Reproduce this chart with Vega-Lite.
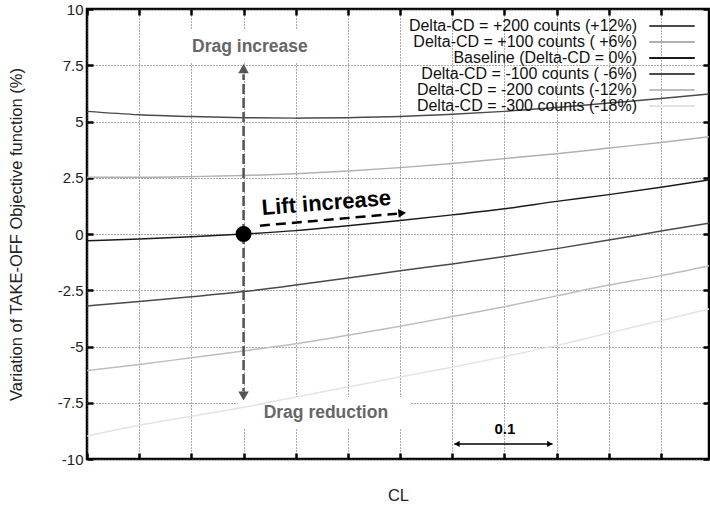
{
  "$schema": "https://vega.github.io/schema/vega-lite/v6.json",
  "width": 622,
  "height": 450,
  "autosize": "none",
  "padding": {"left": 87, "top": 9, "right": 1, "bottom": 51},
  "background": "white",
  "config": {
    "font": "Liberation Sans",
    "view": {"stroke": "black", "strokeWidth": 2.5},
    "axis": {"domain": false, "tickColor": "black", "tickWidth": 2.5, "tickSize": -6, "gridColor": "#555", "gridDash": [1, 2], "gridWidth": 1, "labelFont": "Liberation Sans", "titleFont": "Liberation Sans", "titleFontWeight": "normal", "labelColor": "#222", "titleColor": "#222"}
  },
  "datasets": {
    "curves": [
      {"series": "Delta-CD = +200 counts (+12%)", "CL": 0, "v": 5.45},
      {"series": "Delta-CD = +200 counts (+12%)", "CL": 0.05, "v": 5.3},
      {"series": "Delta-CD = +200 counts (+12%)", "CL": 0.1, "v": 5.22},
      {"series": "Delta-CD = +200 counts (+12%)", "CL": 0.15, "v": 5.17},
      {"series": "Delta-CD = +200 counts (+12%)", "CL": 0.2, "v": 5.15},
      {"series": "Delta-CD = +200 counts (+12%)", "CL": 0.25, "v": 5.17},
      {"series": "Delta-CD = +200 counts (+12%)", "CL": 0.3, "v": 5.22},
      {"series": "Delta-CD = +200 counts (+12%)", "CL": 0.35, "v": 5.32},
      {"series": "Delta-CD = +200 counts (+12%)", "CL": 0.4, "v": 5.45},
      {"series": "Delta-CD = +200 counts (+12%)", "CL": 0.45, "v": 5.62},
      {"series": "Delta-CD = +200 counts (+12%)", "CL": 0.5, "v": 5.82},
      {"series": "Delta-CD = +200 counts (+12%)", "CL": 0.55, "v": 6.02},
      {"series": "Delta-CD = +200 counts (+12%)", "CL": 0.596, "v": 6.22},
      {"series": "Delta-CD = +100 counts ( +6%)", "CL": 0, "v": 2.52},
      {"series": "Delta-CD = +100 counts ( +6%)", "CL": 0.05, "v": 2.52},
      {"series": "Delta-CD = +100 counts ( +6%)", "CL": 0.1, "v": 2.55},
      {"series": "Delta-CD = +100 counts ( +6%)", "CL": 0.15, "v": 2.6},
      {"series": "Delta-CD = +100 counts ( +6%)", "CL": 0.2, "v": 2.68},
      {"series": "Delta-CD = +100 counts ( +6%)", "CL": 0.25, "v": 2.8},
      {"series": "Delta-CD = +100 counts ( +6%)", "CL": 0.3, "v": 2.95},
      {"series": "Delta-CD = +100 counts ( +6%)", "CL": 0.35, "v": 3.13},
      {"series": "Delta-CD = +100 counts ( +6%)", "CL": 0.4, "v": 3.35},
      {"series": "Delta-CD = +100 counts ( +6%)", "CL": 0.45, "v": 3.57},
      {"series": "Delta-CD = +100 counts ( +6%)", "CL": 0.5, "v": 3.82},
      {"series": "Delta-CD = +100 counts ( +6%)", "CL": 0.55, "v": 4.07},
      {"series": "Delta-CD = +100 counts ( +6%)", "CL": 0.596, "v": 4.32},
      {"series": "Baseline (Delta-CD = 0%)", "CL": 0, "v": -0.3},
      {"series": "Baseline (Delta-CD = 0%)", "CL": 0.05, "v": -0.22},
      {"series": "Baseline (Delta-CD = 0%)", "CL": 0.1, "v": -0.12},
      {"series": "Baseline (Delta-CD = 0%)", "CL": 0.15, "v": 0},
      {"series": "Baseline (Delta-CD = 0%)", "CL": 0.2, "v": 0.15},
      {"series": "Baseline (Delta-CD = 0%)", "CL": 0.25, "v": 0.37},
      {"series": "Baseline (Delta-CD = 0%)", "CL": 0.3, "v": 0.6},
      {"series": "Baseline (Delta-CD = 0%)", "CL": 0.35, "v": 0.85},
      {"series": "Baseline (Delta-CD = 0%)", "CL": 0.4, "v": 1.12},
      {"series": "Baseline (Delta-CD = 0%)", "CL": 0.45, "v": 1.45},
      {"series": "Baseline (Delta-CD = 0%)", "CL": 0.5, "v": 1.75},
      {"series": "Baseline (Delta-CD = 0%)", "CL": 0.55, "v": 2.08},
      {"series": "Baseline (Delta-CD = 0%)", "CL": 0.596, "v": 2.4},
      {"series": "Delta-CD = -100 counts ( -6%)", "CL": 0, "v": -3.2},
      {"series": "Delta-CD = -100 counts ( -6%)", "CL": 0.05, "v": -3.0},
      {"series": "Delta-CD = -100 counts ( -6%)", "CL": 0.1, "v": -2.79},
      {"series": "Delta-CD = -100 counts ( -6%)", "CL": 0.15, "v": -2.56},
      {"series": "Delta-CD = -100 counts ( -6%)", "CL": 0.2, "v": -2.27},
      {"series": "Delta-CD = -100 counts ( -6%)", "CL": 0.25, "v": -1.96},
      {"series": "Delta-CD = -100 counts ( -6%)", "CL": 0.3, "v": -1.63},
      {"series": "Delta-CD = -100 counts ( -6%)", "CL": 0.35, "v": -1.33},
      {"series": "Delta-CD = -100 counts ( -6%)", "CL": 0.4, "v": -1.0},
      {"series": "Delta-CD = -100 counts ( -6%)", "CL": 0.45, "v": -0.65},
      {"series": "Delta-CD = -100 counts ( -6%)", "CL": 0.5, "v": -0.27},
      {"series": "Delta-CD = -100 counts ( -6%)", "CL": 0.55, "v": 0.13},
      {"series": "Delta-CD = -100 counts ( -6%)", "CL": 0.596, "v": 0.48},
      {"series": "Delta-CD = -200 counts (-12%)", "CL": 0, "v": -6.07},
      {"series": "Delta-CD = -200 counts (-12%)", "CL": 0.05, "v": -5.8},
      {"series": "Delta-CD = -200 counts (-12%)", "CL": 0.1, "v": -5.5},
      {"series": "Delta-CD = -200 counts (-12%)", "CL": 0.15, "v": -5.2},
      {"series": "Delta-CD = -200 counts (-12%)", "CL": 0.2, "v": -4.88},
      {"series": "Delta-CD = -200 counts (-12%)", "CL": 0.25, "v": -4.5},
      {"series": "Delta-CD = -200 counts (-12%)", "CL": 0.3, "v": -4.1},
      {"series": "Delta-CD = -200 counts (-12%)", "CL": 0.35, "v": -3.67},
      {"series": "Delta-CD = -200 counts (-12%)", "CL": 0.4, "v": -3.23},
      {"series": "Delta-CD = -200 counts (-12%)", "CL": 0.45, "v": -2.75},
      {"series": "Delta-CD = -200 counts (-12%)", "CL": 0.5, "v": -2.27},
      {"series": "Delta-CD = -200 counts (-12%)", "CL": 0.55, "v": -1.85},
      {"series": "Delta-CD = -200 counts (-12%)", "CL": 0.596, "v": -1.42},
      {"series": "Delta-CD = -300 counts (-18%)", "CL": 0, "v": -8.98},
      {"series": "Delta-CD = -300 counts (-18%)", "CL": 0.05, "v": -8.5},
      {"series": "Delta-CD = -300 counts (-18%)", "CL": 0.1, "v": -8.1},
      {"series": "Delta-CD = -300 counts (-18%)", "CL": 0.15, "v": -7.7},
      {"series": "Delta-CD = -300 counts (-18%)", "CL": 0.2, "v": -7.25},
      {"series": "Delta-CD = -300 counts (-18%)", "CL": 0.25, "v": -6.8},
      {"series": "Delta-CD = -300 counts (-18%)", "CL": 0.3, "v": -6.35},
      {"series": "Delta-CD = -300 counts (-18%)", "CL": 0.35, "v": -5.92},
      {"series": "Delta-CD = -300 counts (-18%)", "CL": 0.4, "v": -5.45},
      {"series": "Delta-CD = -300 counts (-18%)", "CL": 0.45, "v": -4.95},
      {"series": "Delta-CD = -300 counts (-18%)", "CL": 0.5, "v": -4.4},
      {"series": "Delta-CD = -300 counts (-18%)", "CL": 0.55, "v": -3.85},
      {"series": "Delta-CD = -300 counts (-18%)", "CL": 0.596, "v": -3.33}
    ]
  },
  "encoding": {
    "x": {"field": "CL", "type": "quantitative", "axis": null, "scale": {"domain": [0, 0.596], "nice": false, "zero": false}},
    "y": {"field": "v", "type": "quantitative", "axis": null, "scale": {"domain": [-10, 10], "nice": false}}
  },
  "layer": [
    {
      "data": {"values": [{"CL": 0.1446, "CL2": 0.3094, "v": -7.24, "v2": -8.62}, {"CL": 0.0939, "CL2": 0.2059, "v": 9.07, "v2": 7.64}]},
      "mark": {"type": "rect", "color": "white", "opacity": 1},
      "encoding": {"x2": {"field": "CL2"}, "y2": {"field": "v2"}}
    },
    {
      "data": {"name": "curves"},
      "mark": {"type": "line", "strokeWidth": 1.5, "interpolate": "monotone"},
      "encoding": {
        "x": {"field": "CL", "type": "quantitative", "scale": {"domain": [0, 0.596], "nice": false, "zero": false}, "axis": {"orient": "bottom", "values": [0, 0.05, 0.1, 0.15, 0.2, 0.25, 0.3, 0.35, 0.4, 0.45, 0.5, 0.55], "labels": false, "grid": true, "title": "CL", "titleFontSize": 16.5, "titlePadding": 27}},
        "y": {"field": "v", "type": "quantitative", "scale": {"domain": [-10, 10], "nice": false}, "axis": {"orient": "left", "values": [-10, -7.5, -5, -2.5, 0, 2.5, 5, 7.5, 10], "labelExpr": "'' + datum.value", "labelFontSize": 15, "labelPadding": 10, "grid": true, "title": "Variation of TAKE-OFF Objective function (%)", "titleFontSize": 16.5, "titlePadding": 33}},
        "color": {
          "field": "series", "type": "nominal",
          "scale": {
            "domain": ["Delta-CD = +200 counts (+12%)", "Delta-CD = +100 counts ( +6%)", "Baseline (Delta-CD = 0%)", "Delta-CD = -100 counts ( -6%)", "Delta-CD = -200 counts (-12%)", "Delta-CD = -300 counts (-18%)"],
            "range": ["#4a4a4a", "#b0b0b0", "#1a1a1a", "#4a4a4a", "#bdbdbd", "#e3e3e3"]
          },
          "legend": {"orient": "none", "legendX": 577, "legendY": 9, "title": null, "labelAlign": "right", "labelOffset": -43, "symbolType": "M-3.5,0H3.5", "symbolSize": 169, "symbolStrokeWidth": 2, "labelFontSize": 16, "labelColor": "#111", "labelLimit": 400, "rowPadding": -1.5, "padding": 0}
        }
      }
    },
    {
      "data": {"values": [{"CL": 0.15, "v": 0, "v2": 7.1}, {"CL": 0.15, "v": 0, "v2": -7.0}]},
      "mark": {"type": "rule", "color": "#555", "strokeWidth": 2.5, "strokeDash": [10, 4]},
      "encoding": {"y2": {"field": "v2"}}
    },
    {
      "data": {"values": [{"CL": 0.15, "v": 7.35}]},
      "mark": {"type": "point", "shape": "triangle-up", "filled": true, "color": "#555", "size": 110, "opacity": 1},
      "encoding": {}
    },
    {
      "data": {"values": [{"CL": 0.15, "v": -7.2}]},
      "mark": {"type": "point", "shape": "triangle-down", "filled": true, "color": "#555", "size": 110, "opacity": 1},
      "encoding": {}
    },
    {
      "data": {"values": [{"CL": 0.1657, "v": 0.37, "CL2": 0.297, "v2": 0.9}]},
      "mark": {"type": "rule", "color": "black", "strokeWidth": 2.5, "strokeDash": [10, 6]},
      "encoding": {"x2": {"field": "CL2"}, "y2": {"field": "v2"}}
    },
    {
      "data": {"values": [{"CL": 0.302, "v": 0.93}]},
      "mark": {"type": "point", "shape": "triangle-right", "filled": true, "color": "black", "size": 80, "opacity": 1, "angle": -5},
      "encoding": {}
    },
    {
      "data": {"values": [{"CL": 0.15, "v": 0}]},
      "mark": {"type": "point", "filled": true, "color": "black", "size": 254, "opacity": 1},
      "encoding": {
        "x": {"field": "CL", "type": "quantitative", "axis": {"orient": "top", "values": [0, 0.05, 0.1, 0.15, 0.2, 0.25, 0.3, 0.35, 0.4, 0.45, 0.5, 0.55], "labels": false, "grid": false, "title": null}},
        "y": {"field": "v", "type": "quantitative", "axis": {"orient": "right", "values": [-10, -7.5, -5, -2.5, 0, 2.5, 5, 7.5, 10], "labels": false, "grid": false, "title": null}}
      }
    },
    {
      "data": {"values": [{"CL": 0.352, "v": -9.33, "CL2": 0.446}]},
      "mark": {"type": "rule", "color": "black", "strokeWidth": 1.5},
      "encoding": {"x2": {"field": "CL2"}}
    },
    {
      "data": {"values": [{"CL": 0.3545, "v": -9.33}]},
      "mark": {"type": "point", "shape": "triangle-left", "filled": true, "color": "black", "size": 40, "opacity": 1},
      "encoding": {}
    },
    {
      "data": {"values": [{"CL": 0.4435, "v": -9.33}]},
      "mark": {"type": "point", "shape": "triangle-right", "filled": true, "color": "black", "size": 40, "opacity": 1},
      "encoding": {}
    },
    {
      "data": {"values": [{"CL": 0.1561, "v": 8.31, "label": "Drag increase"}]},
      "mark": {"type": "text", "font": "Liberation Sans", "fontWeight": "bold", "fontSize": 17.5, "color": "#666", "align": "center", "baseline": "middle"},
      "encoding": {"text": {"field": "label"}}
    },
    {
      "data": {"values": [{"CL": 0.2289, "v": -7.96, "label": "Drag reduction"}]},
      "mark": {"type": "text", "font": "Liberation Sans", "fontWeight": "bold", "fontSize": 17.5, "color": "#666", "align": "center", "baseline": "middle"},
      "encoding": {"text": {"field": "label"}}
    },
    {
      "data": {"values": [{"CL": 0.2294, "v": 1.38, "label": "Lift increase"}]},
      "mark": {"type": "text", "font": "Liberation Sans", "fontWeight": "bold", "fontSize": 22, "color": "black", "align": "center", "baseline": "middle", "angle": 355.5},
      "encoding": {"text": {"field": "label"}}
    },
    {
      "data": {"values": [{"CL": 0.4004, "v": -8.67, "label": "0.1"}]},
      "mark": {"type": "text", "font": "Liberation Sans", "fontWeight": "bold", "fontSize": 15, "color": "black", "align": "center", "baseline": "middle"},
      "encoding": {"text": {"field": "label"}}
    }
  ],
  "resolve": {"axis": {"x": "independent", "y": "independent"}}
}
